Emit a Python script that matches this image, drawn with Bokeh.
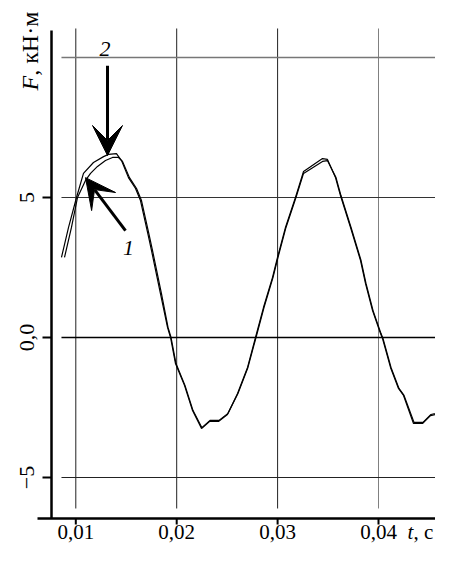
import math
from bokeh.plotting import figure
from bokeh.models import Range1d, Label, Arrow, VeeHead
from bokeh.core.properties import value
from bokeh.embed import file_html
from bokeh.resources import INLINE

# ---- data ----
t_curve2 = [0.00858, 0.00928, 0.01007, 0.01076, 0.01175, 0.01275, 0.01324, 0.01403, 0.01453, 0.01522,
            0.01592, 0.01641, 0.01720, 0.01750, 0.01839, 0.01909, 0.01939, 0.01988, 0.02077, 0.02157,
            0.02246, 0.02325, 0.02414, 0.02503, 0.02603, 0.02702, 0.02781, 0.02860, 0.02949, 0.02999,
            0.03078, 0.03177, 0.03257, 0.03445, 0.03494, 0.03574, 0.03623, 0.03723, 0.03822, 0.03871,
            0.03941, 0.04020, 0.04040, 0.04119, 0.04198, 0.04248, 0.04347, 0.04436, 0.04515, 0.04615,
            0.04684, 0.04724]
f_curve2 = [2.86, 3.93, 5.00, 5.86, 6.25, 6.46, 6.54, 6.57, 6.32, 5.71,
            5.32, 4.89, 3.61, 3.11, 1.57, 0.36, 0.00, -0.93, -1.71, -2.61,
            -3.25, -3.00, -3.00, -2.75, -2.00, -1.07, 0.00, 1.07, 2.14, 2.86,
            3.93, 5.00, 5.93, 6.39, 6.36, 5.71, 5.07, 3.93, 2.75, 1.93,
            0.96, 0.14, -0.04, -1.07, -1.82, -2.07, -3.07, -3.07, -2.79, -2.71,
            -2.57, -2.25]

t_curve1 = [0.00888, 0.00957, 0.01017, 0.01096, 0.01146, 0.01215, 0.01294, 0.01364, 0.01423, 0.01463,
            0.01532, 0.01602, 0.01651, 0.01730, 0.01760, 0.01849, 0.01914, 0.01944, 0.01993, 0.02082,
            0.02162, 0.02250, 0.02330, 0.02419, 0.02508, 0.02607, 0.02706, 0.02786, 0.02865, 0.02954,
            0.03004, 0.03083, 0.03182, 0.03257, 0.03445, 0.03494, 0.03579, 0.03628, 0.03728, 0.03827,
            0.03876, 0.03946, 0.04025, 0.04045, 0.04124, 0.04203, 0.04253, 0.04352, 0.04441, 0.04520,
            0.04620, 0.04689, 0.04729]
f_curve1 = [2.86, 3.93, 5.00, 5.61, 5.86, 6.11, 6.32, 6.43, 6.43, 6.29,
            5.71, 5.32, 4.89, 3.61, 3.11, 1.57, 0.36, 0.00, -0.93, -1.71,
            -2.61, -3.22, -2.96, -2.96, -2.71, -2.00, -1.07, 0.00, 1.07, 2.14,
            2.86, 3.93, 5.00, 5.86, 6.29, 6.32, 5.71, 5.07, 3.93, 2.75,
            1.93, 0.96, 0.14, -0.04, -1.07, -1.82, -2.07, -3.03, -3.03, -2.75,
            -2.66, -2.52, -2.20]

x_ticks = [0.01, 0.02, 0.03, 0.04]
x_tick_labels = ["0,01", "0,02", "0,03", "0,04"]
y_ticks = [-5, 0, 5]
y_tick_labels = ["\u22125", "0,0", "5"]
y_grid_values = [-5, 0, 5, 10]

# ---- layout (data-space positions of frame elements) and styles ----
X_START, X_END = 0.002537, 0.045649
Y_START, Y_END = -7.4286, 12.036
GRID_LEFT = 0.00858
GRID_BOTTOM, GRID_TOP = -6.107, 11.036
XAXIS_Y = -6.464
XAXIS_LEFT = 0.006204
XTICK_Y1 = -6.679
XLABEL_Y = -6.964
YAXIS_X = 0.007592
YAXIS_TOP = 10.964
YTICK_X0 = 0.006700
YLABEL_X = 0.005114
FTITLE_X = 0.005461
FONT = "Liberation Serif"

p = figure(width=435, height=545, x_range=Range1d(X_START, X_END), y_range=Range1d(Y_START, Y_END),
           output_backend="svg", toolbar_location=None,
           x_axis_location=None, y_axis_location=None,
           min_border=0, min_border_left=0, min_border_right=0, min_border_top=0, min_border_bottom=0)
p.outline_line_color = None
p.grid.visible = False
p.background_fill_color = "white"
p.border_fill_color = "white"

# grid lines (drawn from the tick values)
v_colors = ["#222222", "#222222", "#222222", "#808080"]
h_colors = ["#222222", "#000000", "#333333", "#777777"]
h_widths = [1, 1.3, 1, 1.5]
p.segment(x0=x_ticks, y0=[GRID_BOTTOM] * len(x_ticks), x1=x_ticks, y1=[GRID_TOP] * len(x_ticks),
          line_color=v_colors, line_width=1)
p.segment(x0=[GRID_LEFT] * len(y_grid_values), y0=y_grid_values, x1=[X_END] * len(y_grid_values),
          y1=y_grid_values, line_color=h_colors, line_width=h_widths)

# axes: lines, ticks, tick labels
p.segment(x0=[XAXIS_LEFT], y0=[XAXIS_Y], x1=[X_END], y1=[XAXIS_Y], line_color="black", line_width=2.5)
p.segment(x0=[YAXIS_X], y0=[XAXIS_Y], x1=[YAXIS_X], y1=[YAXIS_TOP], line_color="black", line_width=2.5)
p.segment(x0=x_ticks, y0=[XAXIS_Y] * len(x_ticks), x1=x_ticks, y1=[XTICK_Y1] * len(x_ticks),
          line_color="black", line_width=2)
p.segment(x0=[YTICK_X0] * len(y_ticks), y0=y_ticks, x1=[YAXIS_X] * len(y_ticks), y1=y_ticks,
          line_color="black", line_width=2)
p.text(x=x_ticks, y=[XLABEL_Y] * len(x_ticks), text=x_tick_labels, text_align="center",
       text_baseline="alphabetic", text_font=value(FONT), text_font_size="21px", text_color="black")
p.text(x=[YLABEL_X] * len(y_ticks), y=y_ticks, text=y_tick_labels, angle=math.pi / 2,
       text_align="center", text_baseline="alphabetic", text_font=value(FONT),
       text_font_size="22px", text_color="black")

# curves
p.line(t_curve2, f_curve2, line_color="black", line_width=1.2)
p.line(t_curve1, f_curve1, line_color="black", line_width=1.2)

# axis titles
p.add_layout(Label(x=FTITLE_X, y=8.82, text="F", angle=math.pi / 2, text_align="left",
                   text_baseline="alphabetic", text_font=FONT, text_font_style="italic",
                   text_font_size="24px", text_color="black"))
p.add_layout(Label(x=FTITLE_X, y=9.346, text=", кН·м", angle=math.pi / 2, text_align="left",
                   text_baseline="alphabetic", text_font=FONT, text_font_size="24px", text_color="black"))
p.add_layout(Label(x=0.04287, y=XLABEL_Y, text="t", text_align="left", text_baseline="alphabetic",
                   text_font=FONT, text_font_style="italic", text_font_size="21px", text_color="black"))
p.add_layout(Label(x=0.04346, y=XLABEL_Y, text=", с", text_align="left", text_baseline="alphabetic",
                   text_font=FONT, text_font_size="21px", text_color="black"))

# curve labels and arrows
p.add_layout(Label(x=0.01289, y=10.32, text="2", text_align="center", text_baseline="alphabetic",
                   text_font=FONT, text_font_style="italic", text_font_size="22px", text_color="black"))
p.add_layout(Label(x=0.01522, y=3.18, text="1", text_align="center", text_baseline="alphabetic",
                   text_font=FONT, text_font_style="italic", text_font_size="22px", text_color="black"))
p.add_layout(Arrow(end=VeeHead(size=30, fill_color="black", line_color="black"),
                   x_start=0.013142, y_start=9.71, x_end=0.013142, y_end=6.5,
                   line_color="black", line_width=3))
p.add_layout(Arrow(end=VeeHead(size=30, fill_color="black", line_color="black"),
                   x_start=0.014925, y_start=3.82, x_end=0.010961, y_end=5.71,
                   line_color="black", line_width=3))

open("out.html", "w").write(file_html(p, INLINE))
